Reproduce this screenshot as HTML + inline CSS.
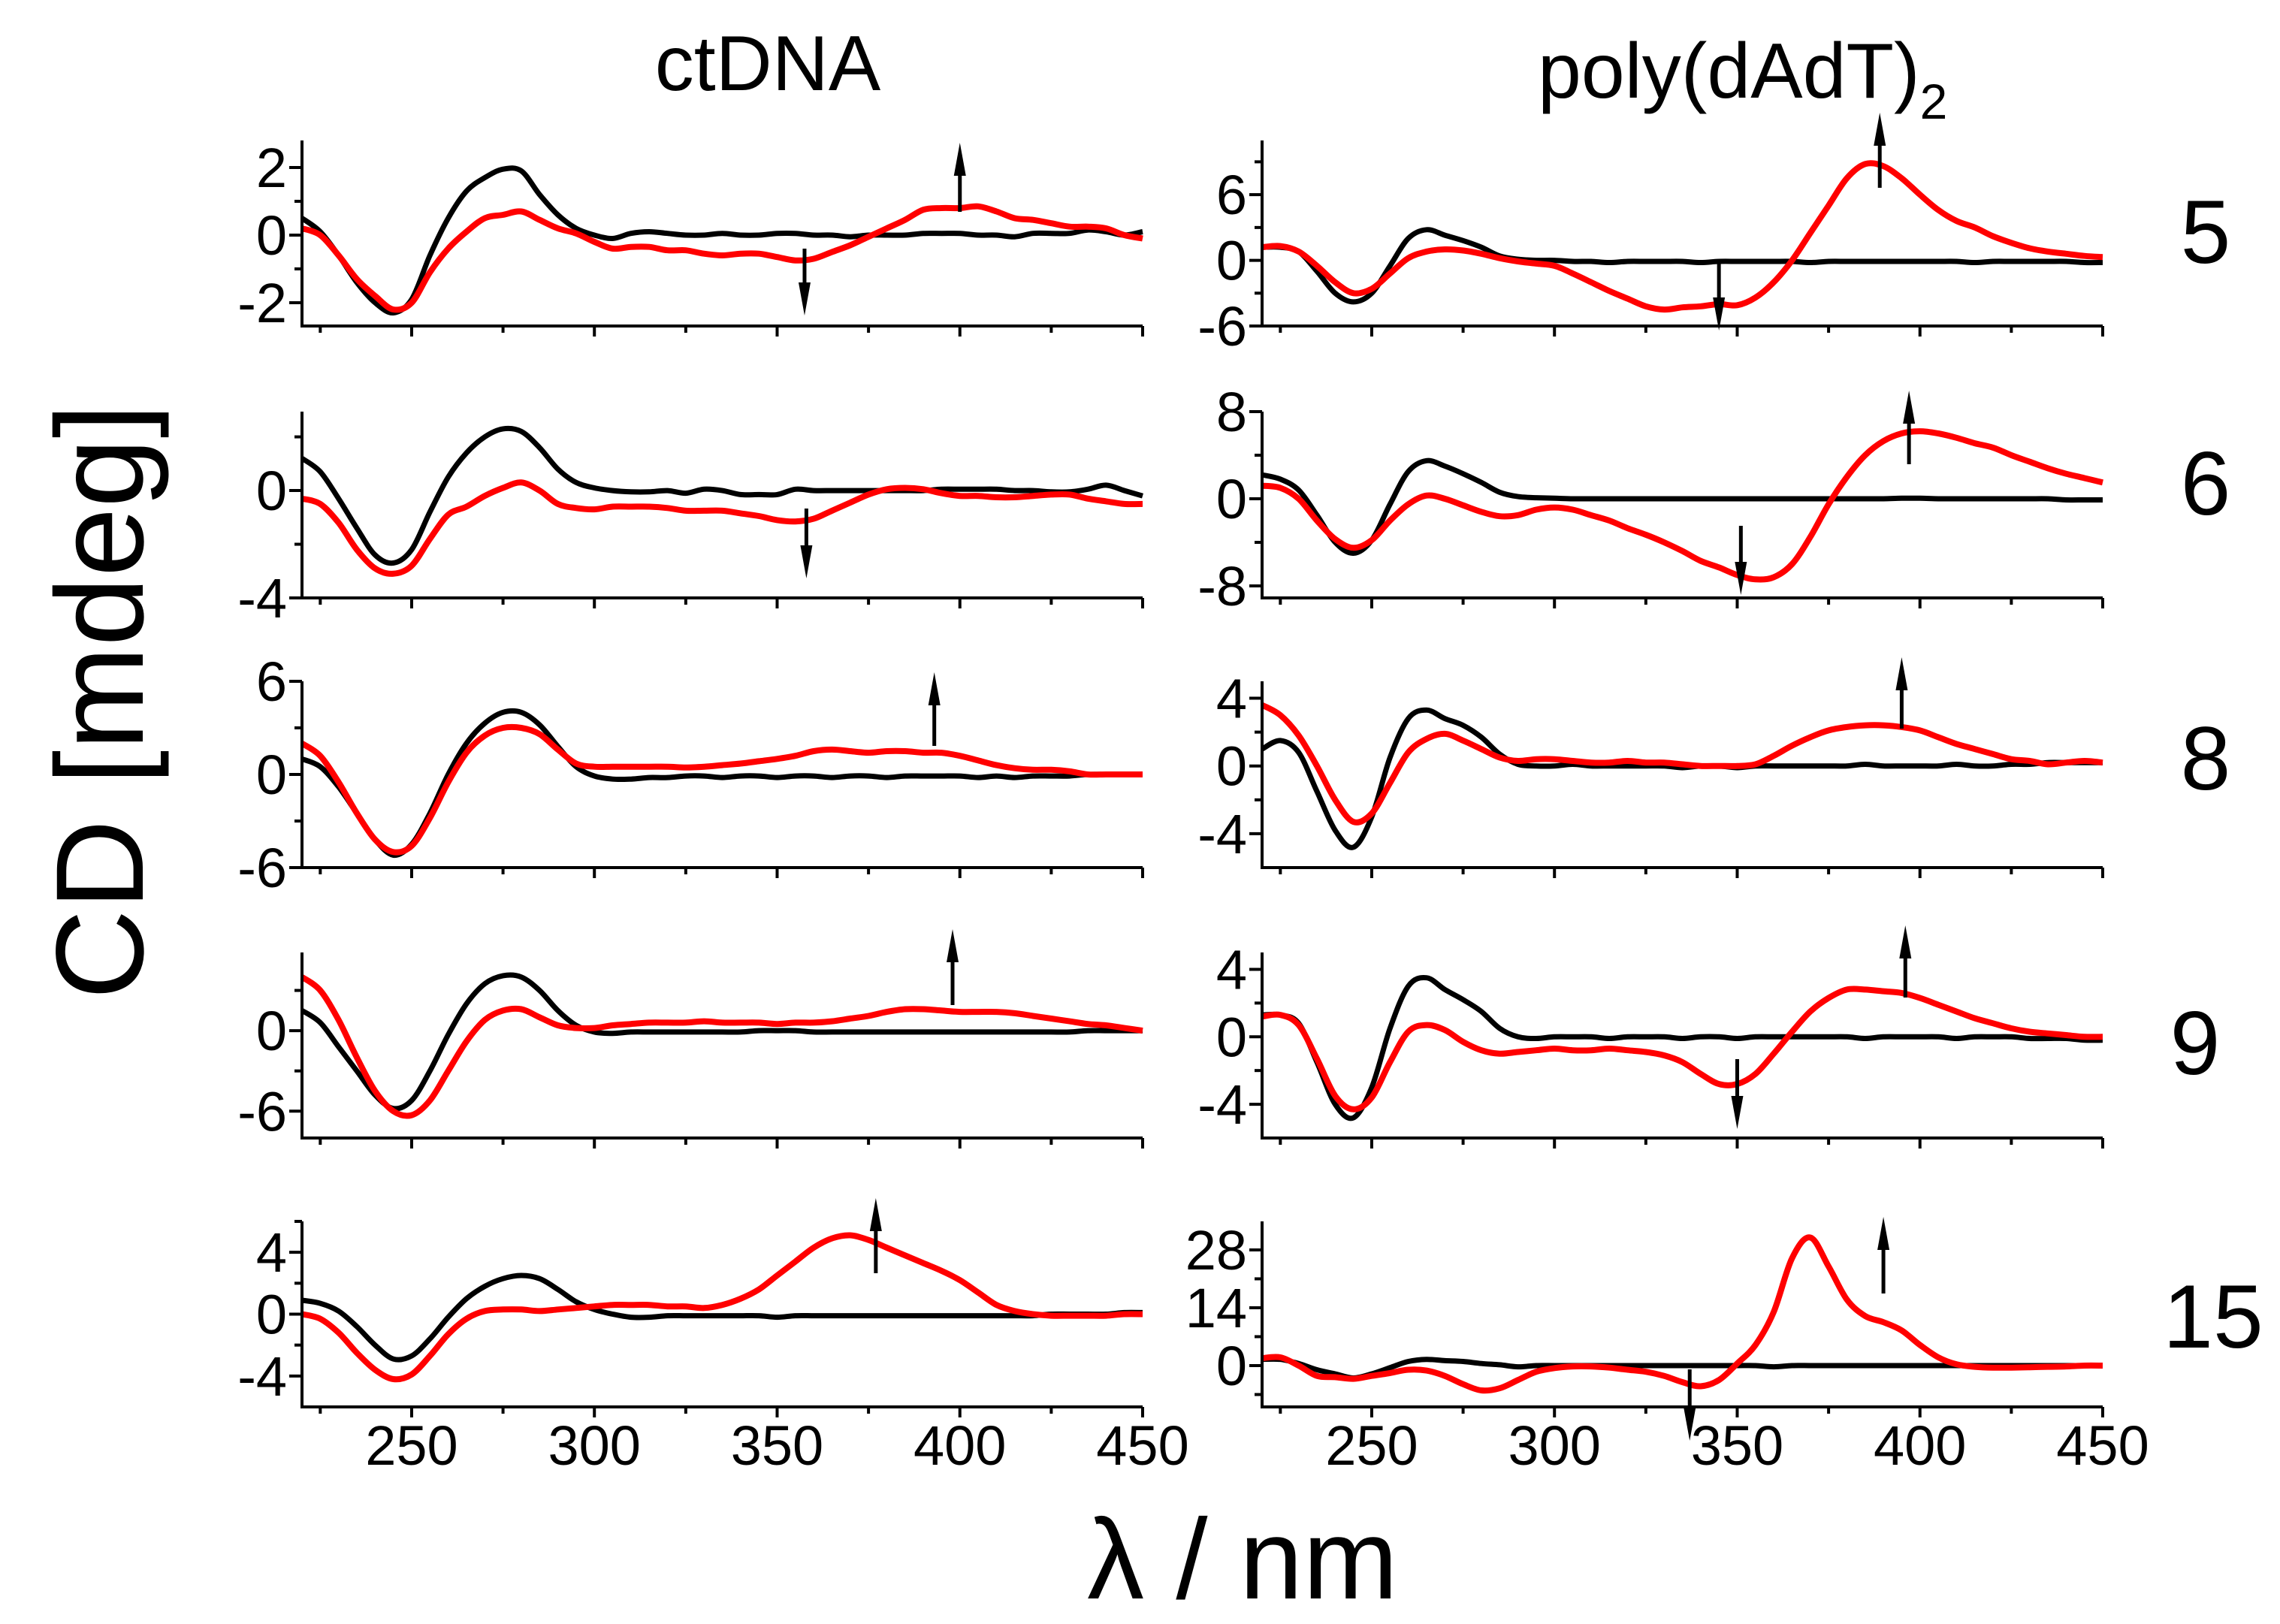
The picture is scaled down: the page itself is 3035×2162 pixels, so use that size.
<!DOCTYPE html>
<html><head><meta charset="utf-8"><style>
html,body{margin:0;padding:0;background:#fff;}
svg{display:block;}
text{font-family:"Liberation Sans",Arial,sans-serif;fill:#000;}
</style></head><body>
<svg id="fig" width="3035" height="2162" viewBox="0 0 3035 2162" xmlns="http://www.w3.org/2000/svg">
<text x="1022" y="120" font-size="104" text-anchor="middle">ctDNA</text>
<text x="2047" y="130" font-size="104">poly(dAdT)<tspan font-size="66" dy="28">2</tspan></text>
<text transform="translate(190,934) rotate(-90)" font-size="166" text-anchor="middle">CD [mdeg]</text>
<text x="1654" y="2128" font-size="152" text-anchor="middle">λ / nm</text>
<g id="plots"></g>
</svg>
<script>
const wavelengths=[220,225,230,235,240,245,250,255,260,265,270,275,280,285,290,295,300,305,310,315,320,325,330,335,340,345,350,355,360,365,370,375,380,385,390,395,400,405,410,415,420,425,430,435,440,445,450];
const rowLabels=["5","6","8","9","15"];
// ctDNA column
const ct5Black=[0.5,0.1,-0.6,-1.4,-2.0,-2.3,-1.9,-0.6,0.5,1.3,1.7,1.95,1.9,1.2,0.6,0.2,0.0,-0.1,0.05,0.1,0.05,0.0,0.0,0.05,0.0,0.0,0.05,0.05,0.0,0.0,-0.05,0.0,0.0,0.0,0.05,0.05,0.05,0.0,0.0,-0.05,0.05,0.05,0.05,0.15,0.1,0.0,0.1];
const ct5Red=[0.2,0.0,-0.6,-1.3,-1.8,-2.2,-2.0,-1.1,-0.4,0.1,0.5,0.6,0.7,0.45,0.2,0.05,-0.2,-0.4,-0.35,-0.35,-0.45,-0.45,-0.55,-0.6,-0.55,-0.55,-0.65,-0.75,-0.7,-0.5,-0.3,-0.05,0.2,0.45,0.75,0.8,0.8,0.85,0.7,0.5,0.45,0.35,0.25,0.25,0.2,0.0,-0.1];
const ct6Black=[1.2,0.7,-0.3,-1.4,-2.4,-2.7,-2.2,-0.8,0.5,1.4,2.0,2.3,2.2,1.6,0.8,0.3,0.1,0.0,-0.05,-0.05,0.0,-0.1,0.05,0.0,-0.15,-0.15,-0.15,0.05,0.0,0.0,0.0,0.0,0.0,0.0,0.0,0.05,0.05,0.05,0.05,0.0,0.0,-0.05,-0.05,0.05,0.2,0.0,-0.2];
const ct6Red=[-0.3,-0.5,-1.2,-2.2,-2.9,-3.1,-2.8,-1.8,-0.9,-0.6,-0.2,0.1,0.3,0.0,-0.5,-0.65,-0.7,-0.6,-0.6,-0.6,-0.65,-0.75,-0.75,-0.75,-0.85,-0.95,-1.1,-1.15,-1.05,-0.75,-0.45,-0.15,0.05,0.1,0.05,-0.1,-0.2,-0.2,-0.25,-0.25,-0.2,-0.15,-0.15,-0.3,-0.4,-0.5,-0.5];
const ct8Black=[1.0,0.5,-0.8,-2.5,-4.2,-5.2,-4.5,-2.5,0.0,2.0,3.3,4.0,4.0,3.2,1.8,0.5,-0.1,-0.3,-0.3,-0.2,-0.2,-0.1,-0.1,-0.2,-0.1,-0.1,-0.2,-0.1,-0.1,-0.2,-0.1,-0.1,-0.2,-0.1,-0.1,-0.1,-0.1,-0.2,-0.1,-0.2,-0.1,-0.1,-0.1,0.0,0.0,0.0,0.0];
const ct8Red=[2.0,1.2,-0.5,-2.5,-4.2,-5.0,-4.6,-2.8,-0.5,1.4,2.5,3.0,3.0,2.6,1.6,0.7,0.5,0.5,0.5,0.5,0.5,0.45,0.5,0.6,0.7,0.85,1.0,1.2,1.5,1.6,1.5,1.4,1.5,1.5,1.4,1.4,1.2,0.9,0.6,0.4,0.3,0.3,0.2,0.0,0.0,0.0,0.0];
const ct9Black=[1.5,0.6,-1.2,-3.0,-4.8,-5.8,-5.2,-3.0,-0.3,2.0,3.5,4.1,4.0,3.0,1.5,0.4,-0.1,-0.2,-0.1,-0.1,-0.1,-0.1,-0.1,-0.1,-0.1,0.0,0.0,0.0,-0.1,-0.1,-0.1,-0.1,-0.1,-0.1,-0.1,-0.1,-0.1,-0.1,-0.1,-0.1,-0.1,-0.1,-0.1,0.0,0.0,0.0,0.0];
const ct9Red=[4.0,3.0,0.8,-2.0,-4.5,-6.0,-6.3,-5.2,-3.0,-0.8,0.8,1.5,1.6,1.0,0.4,0.2,0.2,0.4,0.5,0.6,0.6,0.6,0.7,0.6,0.6,0.6,0.5,0.6,0.6,0.7,0.9,1.1,1.4,1.6,1.6,1.5,1.4,1.4,1.4,1.3,1.1,0.9,0.7,0.5,0.4,0.2,0.0];
const ct15Black=[0.9,0.7,0.2,-0.8,-2.0,-2.9,-2.7,-1.6,-0.2,1.0,1.8,2.3,2.5,2.3,1.6,0.8,0.3,0.0,-0.2,-0.2,-0.1,-0.1,-0.1,-0.1,-0.1,-0.1,-0.2,-0.1,-0.1,-0.1,-0.1,-0.1,-0.1,-0.1,-0.1,-0.1,-0.1,-0.1,-0.1,-0.1,-0.1,0.0,0.0,0.0,0.0,0.1,0.1];
const ct15Red=[0.0,-0.3,-1.2,-2.5,-3.6,-4.2,-3.9,-2.7,-1.3,-0.3,0.2,0.3,0.3,0.2,0.3,0.4,0.5,0.6,0.6,0.6,0.5,0.5,0.4,0.6,1.0,1.6,2.5,3.4,4.3,4.9,5.1,4.8,4.3,3.8,3.3,2.8,2.2,1.4,0.6,0.2,0.0,-0.1,-0.1,-0.1,-0.1,0.0,0.0];
// poly(dAdT)2 column
const at5Black=[1.2,1.2,0.8,-1.0,-3.0,-3.8,-3.0,-0.5,2.0,2.8,2.3,1.8,1.2,0.4,0.1,0.0,0.0,-0.1,-0.1,-0.2,-0.1,-0.1,-0.1,-0.1,-0.2,-0.1,-0.1,-0.1,-0.1,-0.1,-0.2,-0.1,-0.1,-0.1,-0.1,-0.1,-0.1,-0.1,-0.1,-0.2,-0.1,-0.1,-0.1,-0.1,-0.1,-0.2,-0.2];
const at5Red=[1.2,1.3,0.8,-0.5,-2.0,-3.0,-2.6,-1.2,0.2,0.8,1.0,0.9,0.6,0.2,-0.1,-0.3,-0.5,-1.2,-2.0,-2.8,-3.5,-4.2,-4.5,-4.3,-4.2,-4.0,-4.1,-3.4,-2.0,0.0,2.5,5.0,7.5,8.8,8.6,7.5,6.0,4.6,3.6,3.0,2.2,1.6,1.1,0.8,0.6,0.4,0.3];
const at6Black=[2.2,1.8,0.8,-1.5,-4.0,-5.0,-3.8,-0.5,2.5,3.5,3.0,2.3,1.5,0.6,0.2,0.1,0.05,0.0,0.0,0.0,0.0,0.0,0.0,0.0,0.0,0.0,0.0,0.0,0.0,0.0,0.0,0.0,0.0,0.0,0.0,0.05,0.05,0.0,0.0,0.0,0.0,0.0,0.0,0.0,-0.1,-0.1,-0.1];
const at6Red=[1.2,1.0,0.0,-2.0,-3.7,-4.5,-3.8,-2.0,-0.5,0.3,0.0,-0.6,-1.2,-1.6,-1.5,-1.0,-0.8,-1.0,-1.5,-2.0,-2.7,-3.3,-4.0,-4.8,-5.7,-6.3,-7.0,-7.4,-7.2,-6.0,-3.5,-0.5,2.0,4.0,5.3,6.0,6.2,6.0,5.6,5.1,4.7,4.0,3.4,2.8,2.3,1.9,1.5];
const at8Black=[1.0,1.5,0.8,-1.5,-3.8,-4.8,-3.0,0.5,2.8,3.3,2.8,2.4,1.7,0.7,0.1,0.0,0.0,0.1,0.0,0.0,0.0,0.0,0.0,-0.1,0.0,0.0,-0.1,0.0,0.0,0.0,0.0,0.0,0.0,0.1,0.0,0.0,0.0,0.0,0.1,0.0,0.0,0.1,0.1,0.2,0.2,0.2,0.2];
const at8Red=[3.6,3.0,1.8,0.0,-2.0,-3.3,-2.8,-1.0,0.8,1.6,1.9,1.5,1.0,0.5,0.3,0.4,0.4,0.3,0.2,0.2,0.3,0.2,0.2,0.1,0.0,0.0,0.0,0.1,0.6,1.2,1.7,2.1,2.3,2.4,2.4,2.3,2.1,1.7,1.3,1.0,0.7,0.4,0.3,0.1,0.2,0.3,0.2];
const at9Black=[1.3,1.3,0.8,-1.5,-4.0,-4.8,-3.0,0.5,3.0,3.5,2.8,2.2,1.5,0.5,0.0,-0.1,0.0,0.0,0.0,-0.1,0.0,0.0,0.0,-0.1,0.0,0.0,-0.1,0.0,0.0,0.0,0.0,0.0,0.0,-0.1,0.0,0.0,0.0,0.0,-0.1,0.0,0.0,0.0,-0.1,-0.1,-0.1,-0.2,-0.2];
const at9Red=[1.2,1.3,0.7,-1.3,-3.5,-4.3,-3.6,-1.5,0.3,0.7,0.4,-0.3,-0.8,-1.0,-0.9,-0.8,-0.7,-0.8,-0.8,-0.7,-0.8,-0.9,-1.1,-1.5,-2.2,-2.8,-2.8,-2.2,-1.0,0.3,1.5,2.3,2.8,2.8,2.7,2.6,2.3,1.9,1.5,1.1,0.8,0.5,0.3,0.2,0.1,0.0,0.0];
const at15Black=[1.5,1.5,0.5,-1.0,-2.0,-3.0,-2.0,-0.5,1.0,1.5,1.2,1.0,0.5,0.2,-0.3,0.0,0.0,0.0,0.0,0.0,0.0,0.0,0.0,0.0,0.0,0.0,0.0,0.0,-0.3,0.0,0.0,0.0,0.0,0.0,0.0,0.0,0.0,0.0,0.0,0.0,0.0,0.0,0.0,0.0,0.0,0.0,0.0];
const at15Red=[1.8,2.0,0.0,-2.5,-2.8,-3.2,-2.5,-1.8,-1.0,-1.2,-2.5,-4.5,-6.0,-5.5,-3.5,-1.5,-0.6,-0.2,-0.2,-0.5,-1.0,-1.5,-2.5,-4.0,-5.0,-3.5,0.5,5.0,13,26,31,24,16,12,10.5,8.5,5.0,2.0,0.3,-0.3,-0.5,-0.5,-0.4,-0.3,-0.2,0.0,0.0];
const xMajorTicks=[250,300,350,400,450];
const xMinorTicks=[225,275,325,375,425];
const leftBlack=[ct5Black,ct6Black,ct8Black,ct9Black,ct15Black];
const leftRed=[ct5Red,ct6Red,ct8Red,ct9Red,ct15Red];
const rightBlack=[at5Black,at6Black,at8Black,at9Black,at15Black];
const rightRed=[at5Red,at6Red,at8Red,at9Red,at15Red];
const leftRanges=[[-2.69,2.8],[-4,2.94],[-6,6],[-8,5.83],[-6,6]];
const rightRanges=[[-6,10.95],[-9.1,8],[-6,5],[-6,5],[-10,34.9]];
const leftMajor=[[2,0,-2],[0,-4],[6,0,-6],[0,-6],[4,0,-4]];
const leftMinor=[[1,-1],[2,-2],[3,-3],[3,-3],[6,2,-2]];
const rightMajor=[[6,0,-6],[8,0,-8],[4,0,-4],[4,0,-4],[28,14,0]];
const rightMinor=[[9,3,-3],[4,-4],[2,-2],[2,-2],[21,7,-7]];
// arrows: [column, row, wavelength, startY(px), endY(px)]
const arrows=[[0,0,400,282,190],[0,0,357.5,331,420],[1,0,389,250,150],[1,0,345,350,440],
[0,1,358,677,770],[1,1,397,618,520],[1,1,351,700,792],[0,2,393,993,895],[1,2,395,970,875],
[0,3,398,1338,1237],[1,3,396,1328,1232],[1,3,350,1410,1503],[0,4,377,1695,1595],[1,4,390,1722,1620],[1,4,337,1823,1918]];

const NS="http://www.w3.org/2000/svg";
const root=document.getElementById('plots');
const rowTop=[187,548,907,1268,1626], rowBot=[434,796,1155,1515,1873];
const colX0=[402,1680], colX1=[1521,2799];
function mk(tag,attrs,parent){const e=document.createElementNS(NS,tag);for(const k in attrs)e.setAttribute(k,attrs[k]);(parent||root).appendChild(e);return e;}
function xScale(c,nm){return colX0[c]+(nm-220)/(450-220)*(colX1[c]-colX0[c]);}
function yScale(r,range,v){return rowBot[r]-(v-range[0])/(range[1]-range[0])*(rowBot[r]-rowTop[r]);}
function smoothPath(pts){let d=`M${pts[0][0].toFixed(1)},${pts[0][1].toFixed(1)}`;
 for(let i=0;i<pts.length-1;i++){const p0=pts[Math.max(0,i-1)],p1=pts[i],p2=pts[i+1],p3=pts[Math.min(pts.length-1,i+2)];
  const c1x=p1[0]+(p2[0]-p0[0])/6,c1y=p1[1]+(p2[1]-p0[1])/6,c2x=p2[0]-(p3[0]-p1[0])/6,c2y=p2[1]-(p3[1]-p1[1])/6;
  d+=`C${c1x.toFixed(1)},${c1y.toFixed(1)} ${c2x.toFixed(1)},${c2y.toFixed(1)} ${p2[0].toFixed(1)},${p2[1].toFixed(1)}`;}
 return d;}
for(let c=0;c<2;c++){
 for(let r=0;r<5;r++){
  const range=c===0?leftRanges[r]:rightRanges[r];
  const major=c===0?leftMajor[r]:rightMajor[r];
  const minor=c===0?leftMinor[r]:rightMinor[r];
  const g=mk('g',{});
  
  
  const x0=colX0[c],x1=colX1[c],yT=rowTop[r],yB=rowBot[r];
  const black=(c===0?leftBlack:rightBlack)[r], red=(c===0?leftRed:rightRed)[r];
  const pb=smoothPath(wavelengths.map((w,i)=>[xScale(c,w),yScale(r,range,black[i])]));
  const lb=mk('path',{d:pb,fill:'none',stroke:'#000','stroke-width':7,'stroke-linejoin':'round'},g);
  
  
  const pr=smoothPath(wavelengths.map((w,i)=>[xScale(c,w),yScale(r,range,red[i])]));
  const lr=mk('path',{d:pr,fill:'none',stroke:'#ff0000','stroke-width':8,'stroke-linejoin':'round'},g);
  
  
  const ax=mk('path',{d:`M${x0},${yT}V${yB}H${x1}`,fill:'none',stroke:'#000','stroke-width':4},g);
  
  
  major.forEach(v=>{const y=yScale(r,range,v);
   const t=mk('line',{x1:x0-17,x2:x0,y1:y,y2:y,stroke:'#000','stroke-width':4},g);
   
   
   const lab=mk('text',{x:x0-20,y:y+26,'font-size':74,'text-anchor':'end'},g);
   lab.textContent=String(v);
   
   });
  minor.forEach(v=>{const y=yScale(r,range,v);
   const t=mk('line',{x1:x0-10,x2:x0,y1:y,y2:y,stroke:'#000','stroke-width':4},g);
   
   });
  xMajorTicks.forEach(w=>{const x=xScale(c,w);
   const t=mk('line',{x1:x,x2:x,y1:yB,y2:yB+14,stroke:'#000','stroke-width':4},g);
   
   
   if(r===4){const lab=mk('text',{x:x,y:1950,'font-size':74,'text-anchor':'middle'},g);
    lab.textContent=String(w);
    
    }});
  xMinorTicks.forEach(w=>{const x=xScale(c,w);
   const t=mk('line',{x1:x,x2:x,y1:yB,y2:yB+9,stroke:'#000','stroke-width':4},g);
   
   });
 }
}
arrows.forEach(a=>{const x=xScale(a[0],a[2]);const y1=a[3],y2=a[4];const dir=y2>y1?1:-1;
 const g=mk('g',{});
 
 
 mk('line',{x1:x,x2:x,y1:y1,y2:y2-dir*40,stroke:'#000','stroke-width':5},g);
 mk('polygon',{points:`${x-8},${y2-dir*44} ${x+8},${y2-dir*44} ${x},${y2}`,fill:'#000'},g);
});
const rowLabelPos=[[2936,350],[2936,685],[2936,1051],[2922,1430],[2946,1794]];
rowLabels.forEach((t,i)=>{const e=mk('text',{x:rowLabelPos[i][0],y:rowLabelPos[i][1],'font-size':120,'text-anchor':'middle'});
 e.textContent=t;
 
 });
</script>
</body></html>
